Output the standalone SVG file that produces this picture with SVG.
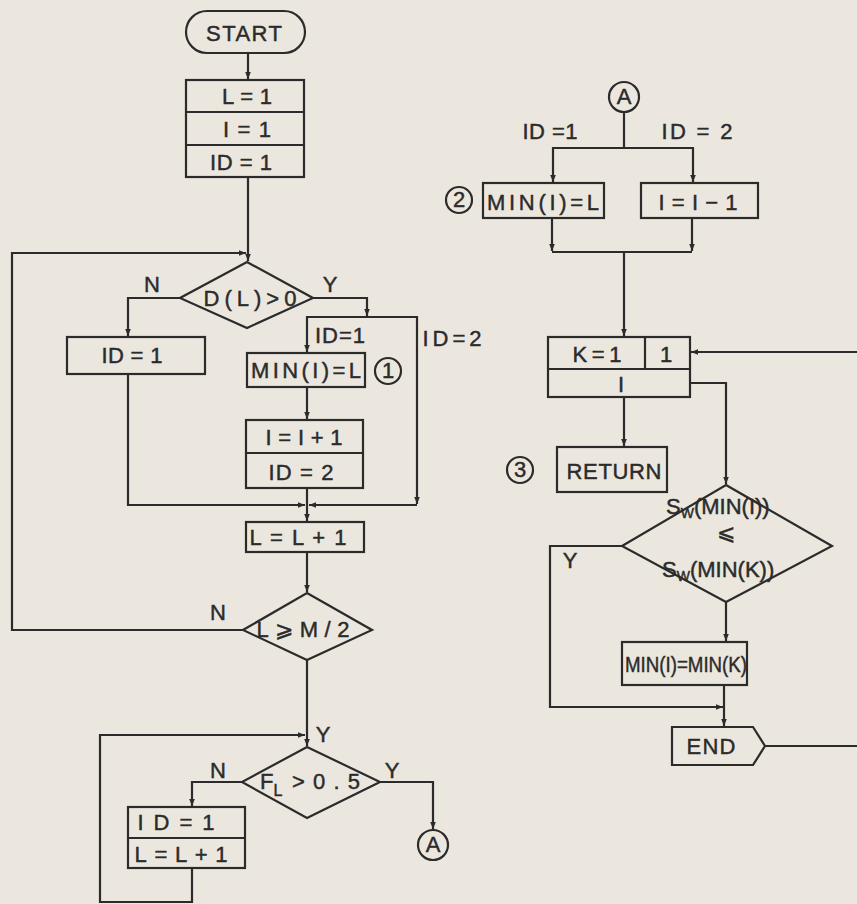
<svg xmlns="http://www.w3.org/2000/svg" width="857" height="904" viewBox="0 0 857 904">
<defs>
<marker id="ah" viewBox="0 0 10 10" refX="10" refY="5" markerWidth="7" markerHeight="7" markerUnits="userSpaceOnUse" orient="auto"><path d="M0,1 L10,5 L0,9 z" fill="#2b2b2b"/></marker>
<style>
.s{fill:none;stroke:#2b2b2b;stroke-width:2.2;stroke-linejoin:miter}
.c path{fill:none;stroke:#2b2b2b;stroke-width:2.2}
.a{marker-end:url(#ah)}
text{font-family:"Liberation Sans",Arial,sans-serif;fill:#2b2b2b;stroke:#2b2b2b;stroke-width:0.45;font-size:22px;text-anchor:middle}
.l{text-anchor:start}
</style>
</defs>
<rect width="857" height="904" fill="#ebe7de"/>

<g class="c" id="connectors">
<path class="a" d="M248,53 V79"/>
<path class="a" d="M248,177 V261"/>
<path class="a" d="M243,630 H12 V253 H246"/>
<path class="a" d="M180,298 H128 V336"/>
<path class="a" d="M128,374 V505 H305"/>
<path class="a" d="M313,298 H367 V316"/>
<path class="a" d="M367,317 H307 V352"/>
<path class="a" d="M367,317 H417 V504"/>
<path class="a" d="M417,505 H309"/>
<path class="a" d="M307,387 V419"/>
<path class="a" d="M307,488 V521"/>
<path class="a" d="M307,552 V592"/>
<path class="a" d="M307,660 V746"/>
<path class="a" d="M242,782 H192 V806"/>
<path class="a" d="M192,868 V902 H100 V735 H305"/>
<path class="a" d="M380,782 H433 V829"/>
<path d="M624,112 V148"/>
<path class="a" d="M624,148 H553 V182"/>
<path class="a" d="M624,148 H693 V182"/>
<path class="a" d="M552,218 V251"/>
<path class="a" d="M692,218 V251"/>
<path d="M552,252 H692"/>
<path class="a" d="M624,252 V336"/>
<path class="a" d="M765,746 H859 V352 H691"/>
<path class="a" d="M624,397 V446"/>
<path class="a" d="M690,383 H726 V484"/>
<path class="a" d="M622,546 H550 V707 H723"/>
<path class="a" d="M726,602 V641"/>
<path class="a" d="M724,685 V726"/>
</g>

<g id="start"><rect class="s" x="186" y="11" width="119" height="42" rx="21"/><text x="244" y="41" font-size="24" textLength="76" lengthAdjust="spacing">START</text></g>
<g id="init"><rect class="s" x="186" y="80" width="118" height="97"/><path class="s" d="M186,112 H304 M186,145 H304"/>
<text x="247" y="104" textLength="50" lengthAdjust="spacing">L = 1</text>
<text x="247" y="137" textLength="48" lengthAdjust="spacing">I = 1</text>
<text x="241" y="170" textLength="62" lengthAdjust="spacing">ID = 1</text></g>
<g id="d1"><path class="s" d="M247,262 L313,298 L247,328 L180,298 Z"/><text x="250" y="306" textLength="93" lengthAdjust="spacing">D(L)&gt;0</text><text x="152" y="292">N</text><text x="330" y="292">Y</text></g>
<g id="id1a"><rect class="s" x="67" y="337" width="138" height="37"/><text x="132" y="363" textLength="61" lengthAdjust="spacing">ID = 1</text></g>
<g id="lab1"><text x="340" y="343" textLength="50" lengthAdjust="spacing">ID=1</text><text x="452" y="346" textLength="59" lengthAdjust="spacing">ID=2</text></g>
<g id="minL1"><rect class="s" x="247" y="353" width="118" height="34"/><text x="306" y="378" textLength="110" lengthAdjust="spacing">MIN(I)=L</text><circle class="s" cx="388" cy="371" r="13"/><text x="388" y="378" font-size="19">1</text></g>
<g id="incI"><rect class="s" x="246" y="420" width="117" height="68"/><path class="s" d="M246,453 H363"/><text x="304" y="445" textLength="77" lengthAdjust="spacing">I = I + 1</text><text x="301" y="480" textLength="65" lengthAdjust="spacing">ID = 2</text></g>
<g id="incL"><rect class="s" x="246" y="522" width="118" height="30"/><text x="298" y="545" textLength="97" lengthAdjust="spacing">L = L + 1</text></g>
<g id="d2"><path class="s" d="M307,593 L372,630 L307,660 L243,630 Z"/><text x="303" y="637" textLength="93" lengthAdjust="spacing">L⩾M/2</text><text x="218" y="620">N</text></g>
<g id="d3"><path class="s" d="M307,747 L380,782 L307,818 L242,782 Z"/><text x="260" y="789" class="l">F<tspan font-size="16" dy="7">L</tspan></text><text x="292" y="789" class="l" font-size="22" textLength="68" lengthAdjust="spacing">&gt;0.5</text><text x="218" y="778">N</text><text x="392" y="778">Y</text><text x="323" y="742">Y</text></g>
<g id="id1b"><rect class="s" x="128" y="807" width="117" height="61"/><path class="s" d="M128,838 H245"/><text x="176" y="830" textLength="77" lengthAdjust="spacing">ID=1</text><text x="181" y="862" textLength="93" lengthAdjust="spacing">L=L+1</text></g>
<g id="conA1"><circle class="s" cx="433" cy="845" r="15"/><text x="433" y="852" font-size="20">A</text></g>

<g id="conA2"><circle class="s" cx="624" cy="97" r="15"/><text x="624" y="104" font-size="20">A</text></g>
<g id="lab2"><text x="550" y="139" textLength="55" lengthAdjust="spacing">ID =1</text><text x="697" y="139" textLength="71" lengthAdjust="spacing">ID = 2</text></g>
<g id="minL2"><rect class="s" x="483" y="183" width="121" height="35"/><text x="543" y="210" font-size="24" textLength="112" lengthAdjust="spacing">MIN(I)=L</text><circle class="s" cx="459" cy="200" r="13"/><text x="459" y="207" font-size="19">2</text></g>
<g id="decI"><rect class="s" x="641" y="183" width="117" height="35"/><text x="698" y="210" font-size="23" textLength="79" lengthAdjust="spacing">I = I − 1</text></g>
<g id="loopK"><rect class="s" x="548" y="337" width="142" height="60"/><path class="s" d="M548,369 H690 M645,337 V369"/><text x="597" y="362" textLength="49" lengthAdjust="spacing">K = 1</text><text x="666" y="362">1</text><text x="621" y="392">I</text></g>
<g id="ret"><rect class="s" x="557" y="447" width="110" height="45"/><text x="614" y="479" textLength="95" lengthAdjust="spacing">RETURN</text><circle class="s" cx="520" cy="470" r="13"/><text x="520" y="477" font-size="19">3</text></g>
<g id="d4"><path class="s" d="M726,485 L832,546 L726,602 L622,546 Z"/>
<text x="666" y="514" font-size="20" class="l">S<tspan font-size="14" dy="4">W</tspan><tspan dy="-4">(MIN(I))</tspan></text>
<text x="726" y="540" font-size="17">⩽</text>
<text x="662" y="577" font-size="20" class="l">S<tspan font-size="14" dy="4">W</tspan><tspan dy="-4">(MIN(K))</tspan></text>
<text x="570" y="568">Y</text></g>
<g id="minK"><rect class="s" x="622" y="642" width="125" height="43"/><text x="686" y="672" font-size="22" textLength="122" lengthAdjust="spacingAndGlyphs">MIN(I)=MIN(K)</text></g>
<g id="end"><path class="s" d="M672,727 H753 L765,746 L753,765 H672 Z"/><text x="711" y="754" textLength="49" lengthAdjust="spacing">END</text></g>
</svg>
